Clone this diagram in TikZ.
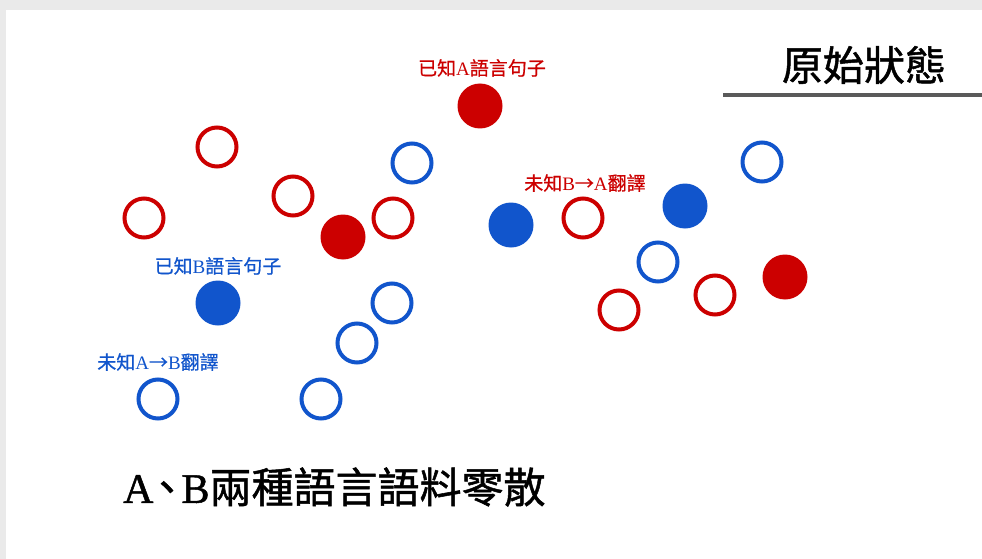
\documentclass[tikz,border=0pt]{standalone}
\usepackage{fontspec}
\setmainfont{Liberation Serif}
\newfontfamily\cjkbig{Noto Sans CJK TC}[FakeBold=1.2]
\newfontfamily\cjkhalt{Noto Sans CJK TC}[FakeBold=1.2,RawFeature=+halt]
\newfontfamily\cjkmed{Noto Sans CJK TC}[FakeBold=0.6]
\newfontfamily\latbig{Liberation Serif}[FakeBold=1.2]
\newcommand{\lat}[1]{{\rmfamily #1}}
\definecolor{cred}{HTML}{CC0000}
\definecolor{cblue}{HTML}{1155CC}
\definecolor{frame}{HTML}{EAEAEA}
\definecolor{rule}{HTML}{5A5A5A}
\tikzset{
  hollowred/.style={circle,draw=cred,line width=4pt,minimum size=39pt,inner sep=0pt},
  hollowblue/.style={circle,draw=cblue,line width=4pt,minimum size=39pt,inner sep=0pt},
  fullred/.style={circle,fill=cred,minimum size=45pt,inner sep=0pt},
  fullblue/.style={circle,fill=cblue,minimum size=45pt,inner sep=0pt},
  smalllabel/.style={inner sep=0pt,font=\fontsize{19}{19}\selectfont\cjkmed},
  biglabel/.style={inner sep=0pt,font=\fontsize{41}{41}\selectfont\cjkbig}
}
\begin{document}
\begin{tikzpicture}[x=1pt,y=-1pt]
\useasboundingbox (0,0) rectangle (982,559);
\fill[frame] (0,0) rectangle (982,559);
\fill[white] (6,10) rectangle (982,559);
% title
\node[biglabel,anchor=center] (title) at (864,65) {原始狀態};
\coordinate (ruleL) at (723,95);
\coordinate (ruleR) at (982,95);
\draw[rule,line width=3.5pt] (ruleL) -- (ruleR);
% red hollow
\node[hollowred] (r1) at (217,147) {};
\node[hollowred] (r2) at (144,218) {};
\node[hollowred] (r3) at (293,196) {};
\node[hollowred] (r4) at (393,218) {};
\node[hollowred] (r5) at (583,218) {};
\node[hollowred] (r6) at (619,310) {};
\node[hollowred] (r7) at (715,295) {};
% red filled
\node[fullred] (R1) at (480,106) {};
\node[fullred] (R2) at (343,237) {};
\node[fullred] (R3) at (785,277) {};
% blue hollow
\node[hollowblue] (b1) at (412,163) {};
\node[hollowblue] (b2) at (762,162) {};
\node[hollowblue] (b3) at (658,262) {};
\node[hollowblue] (b4) at (392,303) {};
\node[hollowblue] (b5) at (357,343) {};
\node[hollowblue] (b6) at (158,399) {};
\node[hollowblue] (b7) at (321,399) {};
% blue filled
\node[fullblue] (B1) at (511,225) {};
\node[fullblue] (B2) at (685,206) {};
\node[fullblue] (B3) at (218,303) {};
% labels
\node[smalllabel,text=cred] (lA) at (482,68) {已知\lat{A}語言句子};
\node[smalllabel,text=cred] (lBA) at (585,183) {未知\lat{B}→\lat{A}翻譯};
\node[smalllabel,text=cblue] (lB) at (218,266) {已知\lat{B}語言句子};
\node[smalllabel,text=cblue] (lAB) at (158,362) {未知\lat{A}→\lat{B}翻譯};
\node[biglabel,anchor=west,font=\fontsize{42}{42}\selectfont\cjkbig] (bottom) at (123,487) {{\latbig A}\kern3pt{\cjkhalt 、}\kern4pt{\latbig B}兩種語言語料零散};
\end{tikzpicture}
\end{document}
